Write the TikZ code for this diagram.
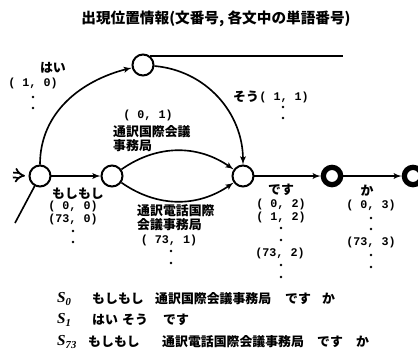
\documentclass[tikz,border=0pt]{standalone}
\usepackage{fontspec}
\setmainfont{Liberation Serif}
\newfontfamily\jp{Noto Sans CJK JP}
\newfontfamily\num{Liberation Mono}
\usepackage{tikz}
\usetikzlibrary{positioning}
\usetikzlibrary{arrows}
\tikzstyle{line} = [draw, line width=1.4pt, -latex']

\begin{document}
\begin{tikzpicture}[x=0.03cm, y=-0.03cm,
				state/.style={draw, circle, line width=1.7pt, minimum size=0.63cm, inner sep=0pt},
				final/.style={draw, circle, line width=4.5pt, minimum size=0.52cm, inner sep=0pt},
				word/.style={font=\jp\bfseries\fontsize{11}{12}\selectfont, inner sep=0pt},
				numlabel/.style={font=\num\bfseries\fontsize{10}{11}\selectfont, inner sep=0pt, align=center},
				row/.style={font=\jp\bfseries\fontsize{11}{12}\selectfont, inner sep=0pt, anchor=west},
				slabel/.style={font=\bfseries\itshape\fontsize{13}{14}\selectfont, inner sep=0pt, anchor=west}]
				\useasboundingbox (0,0) rectangle (418,354);
				\node[font=\jp\bfseries\fontsize{12.5}{14}\selectfont](title) at (216,19) {出現位置情報(文番号, 各文中の単語番号)};
				
				\node[state](node0) at (40,176) {};
				\node[state](node1) at (112,176) {};
				\node[state](node2) at (243,176) {};
				\node[final](node3) at (332,176) {};
				\node[final](node4) at (413,176) {};
				\node[state](node5) at (143,65) {};
				\coordinate (arrowin) at (13,175);
				\coordinate (lineend) at (343,57);
				\coordinate (tail) at (15,223);
				
				\draw [double, double distance=2.6pt, line width=1.5pt, -implies, shorten >=3pt] (arrowin) -- (node0.west);
				\draw [line] (node0) -- (node1);
				\draw [line] (node2) -- (node3);
				\draw [line] (node3) -- (node4);
				\draw [line] (node0.north) to[out=90, in=194] (node5);
				\draw [line] (node5) to[out=-5, in=90] (node2);
				\draw [line] (node1) to[out=35, in=145] (node2);
				\draw [line] (node1) to[out=-35, in=-145] (node2);
				\draw [line width=1.4pt] (node5.50) -- (node5.50 -| lineend);
				\draw [line width=1.4pt] (node0) -- (tail);
				
				\node[word](hai) at (53,68) {はい};
				\node[numlabel](hai-pos) at (33,83) {( 1, 0)};
				\node[word, anchor=west](sou) at (233,97) {そう};
				\node[numlabel, right=0pt of sou](sou-pos) {( 1, 1)};
				\node[numlabel](p01) at (148,115) {( 0, 1)};
				\node[word, anchor=north west, align=left](w01) at (113,125) {通訳国際会議\\事務局};
				\node[word](moshi) at (78,194) {もしもし};
				\node[numlabel](p00) at (73,213) {( 0, 0)\\(73, 0)};
				\node[word, anchor=north west, align=left](w73) at (137,204) {通訳電話国際\\会議事務局};
				\node[numlabel](p731) at (169,240) {( 73, 1)};
				\node[word](desu) at (281,190) {です};
				\node[numlabel](p02) at (281,211) {( 0, 2)\\( 1, 2)};
				\node[numlabel](p732) at (280,253) {(73, 2)};
				\node[word](ka) at (367,191) {か};
				\node[numlabel](p03) at (371,205) {( 0, 3)};
				\node[numlabel](p733) at (371,242) {(73, 3)};
				
				\foreach \p in {(33,97),(33,108),(283,107),(283,118),(73,231),(73,242),(171,251),(171,263),
					(281,228),(281,240),(281,265),(281,277),(371,218),(371,229),(371,255),(371,267)}
					\fill \p circle[radius=1.1pt];
				
				% sentences
				\node[slabel](s0) at (57,299) {S\textsubscript{0}};
				\node[slabel](s1) at (57,320) {S\textsubscript{1}};
				\node[slabel](s73) at (57,342) {S\textsubscript{73}};
				\foreach \x/\w in {92/もしもし, 155/通訳国際会議事務局, 285/です, 322/か}
					\node[row](r0-\x) at (\x,299) {\w};
				\foreach \x/\w in {92/はい, 122/そう, 163/です}
					\node[row](r1-\x) at (\x,320) {\w};
				\foreach \x/\w in {88/もしもし, 162/通訳電話国際会議事務局, 317/です, 356/か}
					\node[row](r2-\x) at (\x,342) {\w};
			\end{tikzpicture}
\end{document}
